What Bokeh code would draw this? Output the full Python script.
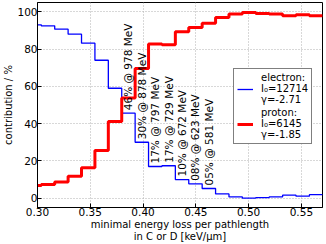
import math
from bokeh.plotting import figure
from bokeh.models import Range1d, FixedTicker, NumeralTickFormatter, Legend, LegendItem, ColumnDataSource
from bokeh.core.properties import value
from bokeh.embed import file_html
from bokeh.resources import INLINE

# bin edges (keV/um) and per-bin contributions (%)
edges = [0.2909, 0.3036, 0.3163, 0.3290, 0.3417, 0.3544, 0.3671, 0.3798, 0.3925,
         0.4052, 0.4179, 0.4306, 0.4433, 0.4560, 0.4687, 0.4814, 0.4941, 0.5068,
         0.5195, 0.5322, 0.5449, 0.5576, 0.5703]
electron = [93.0, 92.5, 90.7, 88.0, 83.2, 74.0, 59.0, 45.6, 30.0, 17.0, 17.4,
            10.0, 7.7, 5.2, 2.3, 0.7, 0.0, 0.3, 0.7, 1.6, 1.1, 1.9]
proton = [6.8, 7.3, 8.7, 11.8, 16.3, 25.6, 41.1, 53.8, 69.6, 82.7, 82.3,
          89.3, 91.6, 93.9, 96.9, 98.8, 99.6, 99.1, 98.8, 97.9, 98.4, 97.9]
label_bins = [7, 8, 9, 10, 11, 12, 13]
label_texts = ["46% @ 978 MeV", "30% @ 878 MeV", "17% @ 797 MeV", "17% @ 729 MeV",
               "10% @ 672 MeV", "08% @ 623 MeV", "05% @ 581 MeV"]
x_ticks = [0.30, 0.35, 0.40, 0.45, 0.50, 0.55]
y_ticks = [0, 20, 40, 60, 80, 100]
legend_electron = "electron:\nI\u2080=12714\n\u03b3=-2.71"
legend_proton = "proton:\nI\u2080=6145\n\u03b3=-1.85"

FONT = "DejaVu Sans"

p = figure(width=326, height=244, output_backend="svg", toolbar_location=None,
           x_range=Range1d(0.30, 0.57), y_range=Range1d(-5, 105),
           min_border_left=34, min_border_right=4, min_border_top=2, min_border_bottom=37)
p.background_fill_color = "white"
p.border_fill_color = "white"
p.outline_line_color = "black"
p.outline_line_width = 1
p.outline_line_alpha = 1

for ax in (p.xaxis[0], p.yaxis[0]):
    ax.major_label_text_font = FONT
    ax.major_label_text_font_size = "10.5px"
    ax.major_label_text_color = "black"
    ax.axis_label_text_font = FONT
    ax.axis_label_text_font_size = "10px"
    ax.axis_label_text_font_style = "normal"
    ax.axis_label_text_color = "black"
    ax.axis_label_text_line_height = 1.1
    ax.axis_line_color = "black"
    ax.major_tick_in = 4
    ax.major_tick_out = 0
    ax.minor_tick_line_color = None
    ax.major_tick_line_color = "black"

p.xaxis.ticker = FixedTicker(ticks=x_ticks)
p.xaxis.formatter = NumeralTickFormatter(format="0.00")
p.yaxis.ticker = FixedTicker(ticks=y_ticks)
p.xaxis.axis_label = "minimal energy loss per pathlength\nin C or D [keV/\u03bcm]"
p.yaxis.axis_label = "contribution / %"
p.xaxis.major_label_standoff = 0
p.xaxis.axis_label_standoff = 0
p.yaxis.major_label_standoff = 0
p.yaxis.axis_label_standoff = 0

p.grid.grid_line_color = "#b0b0b0"
p.grid.grid_line_dash = "1 2"
p.grid.grid_line_width = 1
p.xgrid.ticker = FixedTicker(ticks=x_ticks)
p.ygrid.ticker = FixedTicker(ticks=y_ticks)

r_e = p.step(x=edges, y=electron + [electron[-1]], mode="after", line_color="blue", line_width=1.3)
r_p = p.step(x=edges, y=proton + [proton[-1]], mode="after", line_color="red", line_width=3)

centers = [(edges[i] + edges[i + 1]) / 2 for i in label_bins]
heights = [electron[i] for i in label_bins]
src = ColumnDataSource(dict(x=centers, y=heights, t=label_texts))
p.text(x="x", y="y", text="t", source=src, angle=math.pi / 2, text_align="left",
       text_baseline="middle", y_offset=-3, text_font=value(FONT),
       text_font_size="10.5px", text_color="black")

legend = Legend(items=[LegendItem(label=value(legend_electron), renderers=[r_e]),
                       LegendItem(label=value(legend_proton), renderers=[r_p])],
                location=(196, 63))
legend.label_text_font = FONT
legend.label_text_font_size = "10px"
legend.label_text_color = "black"
legend.label_text_line_height = 1.15
legend.glyph_width = 16
legend.glyph_height = 30
legend.label_standoff = 8
legend.padding = 3
legend.spacing = 2
legend.margin = 0
legend.border_line_color = "black"
legend.border_line_width = 1
legend.background_fill_color = "white"
legend.background_fill_alpha = 1
p.add_layout(legend)

open("out.html", "w").write(file_html(p, INLINE))
